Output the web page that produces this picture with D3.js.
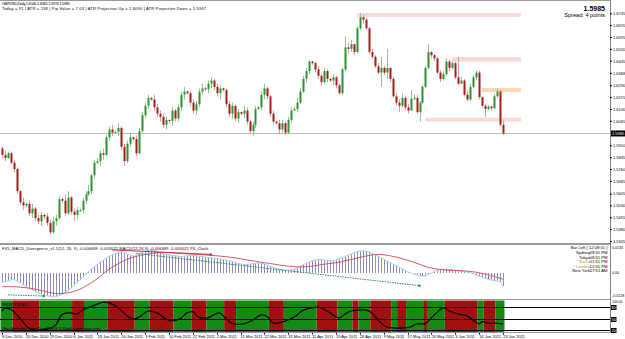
<!DOCTYPE html>
<html>
<head>
<meta charset="utf-8">
<script src="https://cdn.jsdelivr.net/npm/d3@7"></script>
<style>
  html, body { margin: 0; padding: 0; background: #fff; }
  svg { display: block; font-family: "Liberation Sans", Arial, sans-serif; }
</style>
</head>
<body>
<svg id="chart" width="625" height="339"></svg>
<script>
// GBPUSD daily, one bar per trading day (open = previous close)
const firstOpen = 1.589;
const closes = [
  1.5850, 1.5830, 1.5860, 1.5800, 1.5760, 1.5620, 1.5550, 1.5530, 1.5540, 1.5480,
  1.5510, 1.5450, 1.5430, 1.5470, 1.5460, 1.5420, 1.5360, 1.5430, 1.5450, 1.5570,
  1.5560, 1.5480, 1.5580, 1.5490, 1.5470, 1.5500, 1.5500, 1.5560, 1.5600, 1.5620,
  1.5720, 1.5800, 1.5810, 1.5860, 1.5850, 1.5960, 1.6010, 1.5990, 1.5995, 1.6020,
  1.5900, 1.5810, 1.5920, 1.5960, 1.5950, 1.5860, 1.6000, 1.6100, 1.6160, 1.6210,
  1.6200, 1.6150, 1.6110, 1.6090, 1.6040, 1.6070, 1.6065, 1.6130, 1.6080, 1.6150,
  1.6230, 1.6250, 1.6240, 1.6180, 1.6130, 1.6170, 1.6250, 1.6270, 1.6265, 1.6300,
  1.6320, 1.6280, 1.6240, 1.6270, 1.6260, 1.6170, 1.6110, 1.6160, 1.6080, 1.6120,
  1.6110, 1.6130, 1.6060, 1.6000, 1.6040, 1.6140, 1.6150, 1.6230, 1.6270, 1.6220,
  1.6110, 1.6060, 1.6050, 1.6010, 1.6050, 1.5990, 1.6070, 1.6130, 1.6140, 1.6180,
  1.6250, 1.6330, 1.6380, 1.6440, 1.6430, 1.6390, 1.6350, 1.6310, 1.6380, 1.6330,
  1.6320, 1.6340, 1.6290, 1.6240, 1.6390, 1.6530, 1.6520, 1.6550, 1.6500, 1.6650,
  1.6720, 1.6705, 1.6650, 1.6500, 1.6470, 1.6410, 1.6370, 1.6400, 1.6370, 1.6400,
  1.6330, 1.6220, 1.6180, 1.6160, 1.6210, 1.6150, 1.6130, 1.6205, 1.6210, 1.6120,
  1.6180, 1.6280, 1.6400, 1.6500, 1.6480, 1.6460, 1.6370, 1.6330, 1.6360, 1.6440,
  1.6400, 1.6430, 1.6340, 1.6300, 1.6320, 1.6230, 1.6200, 1.6280, 1.6340, 1.6370,
  1.6215, 1.6160, 1.6140, 1.6155, 1.6145, 1.6220, 1.6250, 1.6040, 1.5985
];
const highs = [
  1.5905, 1.5875, 1.5870, 1.5870, 1.5815, 1.5770, 1.5630, 1.5580, 1.5550, 1.5560,
  1.5540, 1.5520, 1.5470, 1.5490, 1.5480, 1.5480, 1.5440, 1.5460, 1.5470, 1.5590,
  1.5580, 1.5600, 1.5620, 1.5590, 1.5510, 1.5520, 1.5510, 1.5580, 1.5620, 1.5660,
  1.5730, 1.5820, 1.5830, 1.5880, 1.5890, 1.5975, 1.6030, 1.6040, 1.6005, 1.6050,
  1.6030, 1.5920, 1.5940, 1.5990, 1.5965, 1.5970, 1.6020, 1.6120, 1.6180, 1.6230,
  1.6215, 1.6230, 1.6170, 1.6130, 1.6110, 1.6090, 1.6075, 1.6150, 1.6140, 1.6170,
  1.6250, 1.6280, 1.6255, 1.6250, 1.6200, 1.6190, 1.6270, 1.6300, 1.6280, 1.6320,
  1.6340, 1.6330, 1.6300, 1.6290, 1.6275, 1.6270, 1.6190, 1.6180, 1.6170, 1.6140,
  1.6125, 1.6160, 1.6150, 1.6070, 1.6060, 1.6160, 1.6160, 1.6250, 1.6300, 1.6280,
  1.6230, 1.6130, 1.6065, 1.6070, 1.6070, 1.6060, 1.6090, 1.6150, 1.6150, 1.6210,
  1.6270, 1.6350, 1.6400, 1.6450, 1.6445, 1.6440, 1.6410, 1.6360, 1.6400, 1.6390,
  1.6335, 1.6360, 1.6350, 1.6300, 1.6400, 1.6600, 1.6560, 1.6575, 1.6545, 1.6665,
  1.6746, 1.6735, 1.6715, 1.6660, 1.6520, 1.6480, 1.6430, 1.6470, 1.6410, 1.6520,
  1.6400, 1.6340, 1.6240, 1.6200, 1.6240, 1.6225, 1.6170, 1.6260, 1.6230, 1.6230,
  1.6190, 1.6290, 1.6410, 1.6548, 1.6505, 1.6490, 1.6470, 1.6385, 1.6380, 1.6460,
  1.6450, 1.6445, 1.6440, 1.6470, 1.6345, 1.6330, 1.6250, 1.6300, 1.6355, 1.6385,
  1.6380, 1.6220, 1.6170, 1.6165, 1.6160, 1.6235, 1.6270, 1.6260, 1.6065
];
const lows = [
  1.5830, 1.5810, 1.5825, 1.5790, 1.5740, 1.5600, 1.5535, 1.5500, 1.5520, 1.5460,
  1.5450, 1.5430, 1.5410, 1.5400, 1.5440, 1.5400, 1.5345, 1.5350, 1.5400, 1.5440,
  1.5545, 1.5460, 1.5470, 1.5470, 1.5430, 1.5440, 1.5490, 1.5480, 1.5540, 1.5590,
  1.5600, 1.5700, 1.5790, 1.5780, 1.5820, 1.5840, 1.5940, 1.5970, 1.5985, 1.5970,
  1.5880, 1.5780, 1.5800, 1.5900, 1.5940, 1.5840, 1.5850, 1.5990, 1.6080, 1.6140,
  1.6190, 1.6130, 1.6090, 1.6060, 1.6020, 1.6010, 1.6050, 1.6040, 1.6060, 1.6060,
  1.6130, 1.6200, 1.6230, 1.6160, 1.6110, 1.6100, 1.6150, 1.6230, 1.6255, 1.6240,
  1.6270, 1.6260, 1.6220, 1.6200, 1.6250, 1.6150, 1.6090, 1.6080, 1.6060, 1.6050,
  1.6100, 1.6080, 1.6040, 1.5980, 1.5970, 1.6020, 1.6135, 1.6130, 1.6200, 1.6200,
  1.6090, 1.6040, 1.6040, 1.5985, 1.5990, 1.5975, 1.5980, 1.6050, 1.6130, 1.6120,
  1.6170, 1.6240, 1.6310, 1.6360, 1.6420, 1.6370, 1.6330, 1.6290, 1.6300, 1.6310,
  1.6310, 1.6290, 1.6270, 1.6230, 1.6230, 1.6380, 1.6490, 1.6500, 1.6480, 1.6490,
  1.6640, 1.6680, 1.6640, 1.6490, 1.6455, 1.6400, 1.6360, 1.6280, 1.6355, 1.6330,
  1.6310, 1.6210, 1.6160, 1.6120, 1.6150, 1.6130, 1.6110, 1.6150, 1.6195, 1.6110,
  1.6060, 1.6170, 1.6270, 1.6390, 1.6460, 1.6440, 1.6360, 1.6310, 1.6320, 1.6350,
  1.6380, 1.6390, 1.6330, 1.6290, 1.6300, 1.6220, 1.6190, 1.6190, 1.6270, 1.6320,
  1.6200, 1.6145, 1.6090, 1.6130, 1.6130, 1.6140, 1.6210, 1.6030, 1.5974
];
const opens = closes.map((c, i) => (i === 0 ? firstOpen : closes[i - 1]));

const priceTicks = [1.6745, 1.6670, 1.6595, 1.6520, 1.6445, 1.6368, 1.6290, 1.6215, 1.6140, 1.6065,
  1.5910, 1.5835, 1.5760, 1.5685, 1.5605, 1.5530, 1.5455, 1.5380, 1.5305];
const lastPrice = 1.5985;

// supply / demand zones: first bar, top, bottom
const zoneStart = [119, 142, 151, 161];
const zoneTop = [1.6747, 1.6085, 1.6468, 1.6272];
const zoneBottom = [1.6722, 1.6060, 1.6440, 1.6247];
const zoneFill = ["#f9d8d8", "#f9d8d8", "#f9d8d8", "#fbd6b4"];
const zoneEnd = 174;

// MACD main per bar, in pips
const macd = [
  -48, -44, -40, -36, -34, -40, -50, -60, -70, -78,
  -86, -94, -100, -106, -110, -116, -120, -122, -120, -116,
  -110, -100, -90, -78, -64, -50, -36, -22, -8, 6,
  20, 32, 44, 56, 66, 76, 86, 94, 100, 106,
  110, 104, 96, 90, 86, 90, 98, 106, 112, 116,
  118, 116, 110, 104, 98, 94, 92, 90, 88, 86,
  84, 86, 88, 90, 90, 88, 86, 84, 82, 80,
  78, 76, 74, 72, 70, 66, 62, 58, 54, 50,
  46, 44, 44, 46, 48, 50, 52, 50, 46, 40,
  34, 28, 22, 18, 16, 14, 14, 16, 20, 26,
  34, 42, 50, 56, 62, 66, 68, 68, 66, 64,
  62, 62, 66, 72, 78, 84, 90, 96, 102, 108,
  112, 114, 112, 108, 102, 94, 86, 78, 70, 62,
  54, 46, 38, 30, 22, 14, 6, 0, -6, -10,
  -14, -16, -14, -8, 0, 8, 14, 18, 20, 20,
  18, 16, 14, 12, 10, 8, 6, 2, -4, -10,
  -16, -22, -28, -32, -36, -38, -40, -44, -67
];
// signal line samples [bar, pips]
const signalPts = [[0, -70], [6, -72], [12, -85], [18, -105], [24, -95], [30, -50], [36, 20], [42, 70],
  [48, 95], [54, 105], [60, 100], [66, 95], [72, 88], [78, 78], [84, 62], [90, 48], [96, 35],
  [102, 32], [108, 45], [114, 58], [120, 80], [126, 95], [132, 82], [138, 55], [144, 25],
  [150, 14], [156, 10], [162, -5], [168, -32]];
// divergence lines [bar1, pips1, bar2, pips2]
const bearDiv = [[37, 118, 70, 95]];
const bullDiv = [[2, -112, 14, -118], [45, 100, 140, -65]];

// oscillator in lower window [bar, value]
const stochPts = [[0, 70], [1, 78], [3, 74], [6, 52], [9, 25], [13, 20], [16, 25], [18, 33], [20, 60],
  [22, 65], [23, 65], [25, 62], [27, 72], [31, 85], [34, 93], [36, 91], [39, 78], [42, 57], [44, 49],
  [46, 54], [49, 70], [52, 65], [55, 49], [57, 44], [60, 51], [62, 65], [64, 68], [66, 54], [69, 52],
  [71, 60], [73, 65], [75, 51], [77, 38], [81, 36], [84, 46], [87, 60], [89, 55], [91, 38], [94, 41],
  [98, 54], [101, 72], [104, 78], [106, 80], [108, 74], [110, 65], [113, 52], [116, 67], [119, 72],
  [122, 73], [124, 65], [126, 47], [129, 28], [131, 26], [134, 25], [137, 28], [139, 36], [142, 37],
  [144, 52], [146, 67], [148, 78], [150, 70], [153, 62], [156, 57], [158, 46], [160, 36], [161, 42],
  [163, 38], [165, 38], [168, 36]];
const stochLevels = [80, 50, 20];
// trend state bands, run lengths starting with green
const bandRuns = [4, 9, 11, 4, 8, 9, 5, 8, 6, 5, 6, 4, 11, 5, 11, 7, 5, 2, 4, 7, 2, 3, 6, 1, 6, 11, 2, 4, 3];

const dateLabels = ["9 Dec 2010", "20 Dec 2010", "29 Dec 2010", "6 Jan 2011", "18 Jan 2011", "26 Jan 2011",
  "3 Feb 2011", "10 Feb 2011", "22 Feb 2011", "2 Mar 2011", "11 Mar 2011", "22 Mar 2011", "31 Mar 2011",
  "11 Apr 2011", "19 Apr 2011", "28 Apr 2011", "9 May 2011", "17 May 2011", "26 May 2011", "3 Jun 2011",
  "14 Jun 2011", "23 Jun 2011"];
const barsPerLabel = 8;

const clockNames = ["Sydney", "Tokyo", "* Berlin", "* London", "New York"];
const clockTimes = ["09:51 PM", "08:51 PM", "01:51 PM", "12:51 PM", "07:51 AM"];

// ---------------------------------------------------------------
const svg = d3.select("#chart");
const plotR = 610;
const x = d3.scaleLinear().domain([0, closes.length - 1]).range([2, 503]);
const step = x(1) - x(0);
const yPrice = d3.scaleLinear().domain([1.5305, 1.6745]).range([241, 13.3]);
const yMacd = d3.scaleLinear().domain([-128, 133]).range([298, 247]);
const yStoch = d3.scaleLinear().domain([100, 15]).range([299.5, 332]);
const px = (i) => Math.round(x(i)) + 0.5;

svg.append("rect").attr("width", 625).attr("height", 339).attr("fill", "#fff");

// zones
svg.append("g")
  .selectAll("rect")
  .data(zoneStart)
  .join("rect")
  .attr("x", (d) => x(d))
  .attr("width", (d) => x(zoneEnd) - x(d))
  .attr("y", (d, i) => yPrice(zoneTop[i]))
  .attr("height", (d, i) => yPrice(zoneBottom[i]) - yPrice(zoneTop[i]))
  .attr("fill", (d, i) => zoneFill[i]);

// current price line
svg.append("line")
  .attr("x1", 0).attr("x2", plotR)
  .attr("y1", Math.round(yPrice(lastPrice)) + 0.5)
  .attr("y2", Math.round(yPrice(lastPrice)) + 0.5)
  .attr("stroke", "#bdbca4");

// candles
const bars = svg.append("g")
  .selectAll("g")
  .data(closes.map((c, i) => ({ i, o: opens[i], h: highs[i], l: lows[i], c })))
  .join("g");
bars.append("line")
  .attr("x1", (d) => px(d.i)).attr("x2", (d) => px(d.i))
  .attr("y1", (d) => yPrice(d.h)).attr("y2", (d) => yPrice(d.l))
  .attr("stroke", (d) => (d.c >= d.o ? "#8cc98c" : "#df9c9c"));
bars.append("rect")
  .attr("x", (d) => Math.round(x(d.i)) - 0.5)
  .attr("width", 2)
  .attr("y", (d) => yPrice(Math.max(d.o, d.c)))
  .attr("height", (d) => Math.max(1, Math.abs(yPrice(d.o) - yPrice(d.c))))
  .attr("fill", (d) => (d.c >= d.o ? "#2f922f" : "#a41c1c"));

// text in main window
const small = (sel) => sel.attr("font-size", 4).attr("fill", "#000");
svg.append("text").attr("x", 2).attr("y", 5).call(small)
  .attr("textLength", 68)
  .text("GBPUSD,Daily  1.6040 1.6065 1.5974 1.5985");
svg.append("text").attr("x", 2).attr("y", 10).call(small)
  .attr("textLength", 204)
  .text("Today = 91   |   ATR = 138   |   Pip Value = 7.03   |   ATR Projection Up = 1.6090   |   ATR Projection Down = 1.5947");
svg.append("text").attr("x", 605).attr("y", 10.5).attr("text-anchor", "end")
  .attr("font-size", 7).attr("font-weight", "bold").text(lastPrice.toFixed(4));
svg.append("text").attr("x", 605).attr("y", 16.5).attr("text-anchor", "end")
  .attr("font-size", 5.6).text("Spread: 4 points");

// MACD window
svg.append("g")
  .selectAll("line")
  .data(macd)
  .join("line")
  .attr("x1", (d, i) => px(i)).attr("x2", (d, i) => px(i))
  .attr("y1", yMacd(0)).attr("y2", (d) => yMacd(d))
  .attr("stroke", "#8c8cc0");
svg.append("path")
  .datum(macd)
  .attr("d", d3.line().x((d, i) => x(i)).y((d) => yMacd(d)))
  .attr("fill", "none").attr("stroke", "#9fd0f0").attr("stroke-width", 1);
svg.append("path")
  .datum(signalPts)
  .attr("d", d3.line().curve(d3.curveCatmullRom).x((d) => x(d[0])).y((d) => yMacd(d[1])))
  .attr("fill", "none").attr("stroke", "#d24a4a").attr("stroke-width", 0.9);
const divLine = (rows, color, dash) => {
  const g = svg.append("g");
  g.selectAll("line").data(rows).join("line")
    .attr("x1", (d) => x(d[0])).attr("y1", (d) => yMacd(d[1]))
    .attr("x2", (d) => x(d[2])).attr("y2", (d) => yMacd(d[3]))
    .attr("stroke", color).attr("stroke-dasharray", dash);
  g.selectAll("circle").data(rows).join("circle")
    .attr("cx", (d) => x(d[2])).attr("cy", (d) => yMacd(d[3]))
    .attr("r", 1.3).attr("fill", color);
};
divLine(bearDiv, "#c83232", null);
divLine(bullDiv, "#3c8a5a", "1.5,1");

svg.append("text").attr("x", 2).attr("y", 249.5).call(small)
  .attr("textLength", 206)
  .text("FX5_MACD_Divergence_v1.1(12, 26, 9) -0.006689 -0.003021   MACD(12,26,9) -0.006689 -0.003021   P4_Clock");
svg.append("text").attr("x", 607.5).attr("y", 249).attr("text-anchor", "end")
  .attr("font-size", 4.2).text("Bar Left  [ 12:08:01 ]");
const clock = svg.append("g").selectAll("g").data(clockNames).join("g")
  .attr("transform", (d, i) => `translate(0, ${254.2 + i * 4.55})`);
clock.append("text").attr("x", 590).attr("text-anchor", "end").attr("font-size", 4.2)
  .attr("fill", (d) => (d.startsWith("*") ? "#c09a2a" : "#000")).text((d) => d);
clock.append("text").attr("x", 607.5).attr("text-anchor", "end").attr("font-size", 4.2)
  .text((d, i) => clockTimes[i]);

// lower window: state bands
let runStart = 0;
const runs = bandRuns.map((n, k) => {
  const r = { from: runStart, to: runStart + n - 1, bull: k % 2 === 0 };
  runStart += n;
  return r;
});
svg.append("g")
  .selectAll("rect")
  .data(runs)
  .join("rect")
  .attr("x", (d) => x(d.from) - step / 2)
  .attr("width", (d) => x(d.to) - x(d.from) + step)
  .attr("y", 300.5)
  .attr("height", 32)
  .attr("fill", (d) => (d.bull ? "#138a13" : "#a01010"));
svg.append("g")
  .selectAll("line")
  .data(stochLevels)
  .join("line")
  .attr("x1", 0).attr("x2", plotR)
  .attr("y1", (d) => Math.round(yStoch(d)) + 0.5)
  .attr("y2", (d) => Math.round(yStoch(d)) + 0.5)
  .attr("stroke", "#000");
svg.append("path")
  .datum(stochPts)
  .attr("d", d3.line().curve(d3.curveCatmullRom).x((d) => x(d[0])).y((d) => yStoch(d[1])))
  .attr("fill", "none").attr("stroke", "#000").attr("stroke-width", 1.2);
svg.append("text").attr("x", 2).attr("y", 305.5).call(small).attr("textLength", 26).text("SSD(8,3,3) 36.4");
svg.append("text").attr("x", 2).attr("y", 330).call(small).attr("textLength", 98)
  .text("Slow Stochastic / Trend Zone Bars (8, 3, 3)  bull = green  bear = red");

// frames
const frameY = [0.5, 243.5, 244.5, 299.5, 332.5];
svg.append("g").selectAll("line").data(frameY).join("line")
  .attr("x1", 0).attr("x2", plotR).attr("y1", (d) => d).attr("y2", (d) => d)
  .attr("stroke", "#9a9a9a");
svg.append("line").attr("x1", plotR + 0.5).attr("x2", plotR + 0.5).attr("y1", 0).attr("y2", 333)
  .attr("stroke", "#808080");

// price axis
const yAxis = d3.axisRight(yPrice).tickValues(priceTicks).tickSize(2).tickPadding(1)
  .tickFormat((d) => d.toFixed(4));
const ga = svg.append("g").attr("transform", `translate(${plotR},0)`).call(yAxis);
ga.select(".domain").remove();
ga.selectAll("text").attr("font-size", 4).attr("fill", "#000");
ga.selectAll("line").attr("stroke", "#000");
svg.append("rect").attr("x", 611).attr("y", yPrice(lastPrice) - 3).attr("width", 14).attr("height", 6).attr("fill", "#000");
svg.append("text").attr("x", 612).attr("y", yPrice(lastPrice) + 1.5).attr("font-size", 4)
  .attr("fill", "#fff").text(lastPrice.toFixed(4));

// MACD axis labels
const macdLabels = [[133, "0.0133", 2], [0, "0.00", 1.5], [-128, "-0.0128", -0.8]];
svg.append("g").selectAll("text").data(macdLabels).join("text")
  .attr("x", 612).attr("y", (d) => yMacd(d[0]) + d[2])
  .attr("font-size", 3.6).text((d) => d[1]);
svg.append("text").attr("x", 612).attr("y", 303.2).attr("font-size", 3.4).text("100.00");
const lvl = svg.append("g").selectAll("g").data(stochLevels).join("g")
  .attr("transform", (d) => `translate(611, ${Math.round(yStoch(d)) - 2})`);
lvl.append("rect").attr("width", 5.5).attr("height", 5).attr("fill", "#000");
lvl.append("text").attr("x", 0.6).attr("y", 3.8).attr("font-size", 4).attr("fill", "#fff").text((d) => d);

// date axis
svg.append("g")
  .selectAll("text")
  .data(dateLabels)
  .join("text")
  .attr("x", (d, k) => x(k * barsPerLabel))
  .attr("y", 338)
  .attr("font-size", 4)
  .attr("fill", "#000")
  .text((d) => d);
svg.append("g")
  .selectAll("line")
  .data(dateLabels)
  .join("line")
  .attr("x1", (d, k) => px(k * barsPerLabel)).attr("x2", (d, k) => px(k * barsPerLabel))
  .attr("y1", 333).attr("y2", 334.5)
  .attr("stroke", "#000");
</script>
</body>
</html>
